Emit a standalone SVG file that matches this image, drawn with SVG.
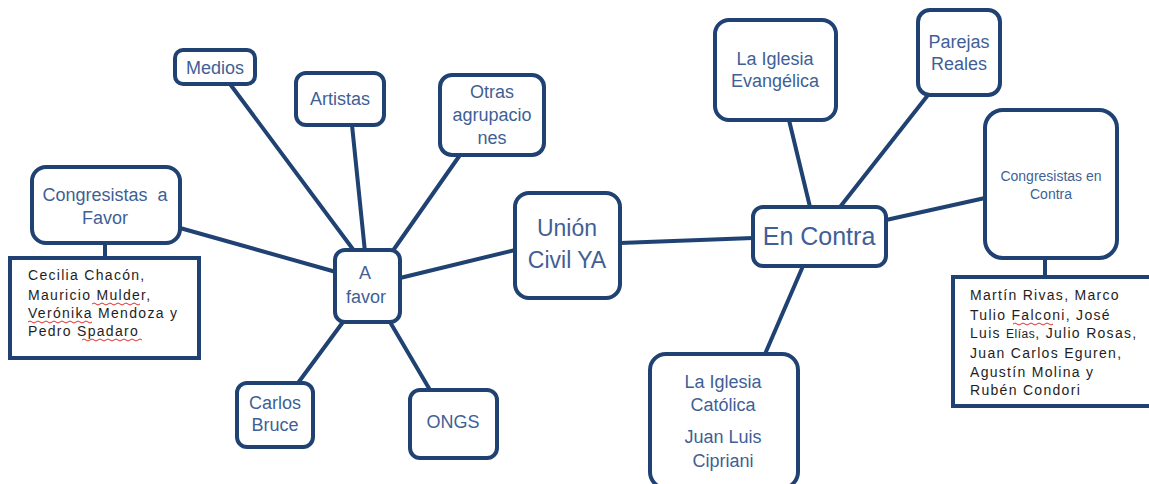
<svg xmlns="http://www.w3.org/2000/svg" width="1149" height="484" viewBox="0 0 1149 484">
<style>
.n{fill:#fff;stroke:#1f4272;stroke-width:4}
.c{stroke:#1f4272;stroke-width:4;fill:none;stroke-linecap:round}
.t{font-family:"Liberation Sans",Arial,sans-serif;fill:#3f5f96;text-anchor:middle;font-size:18px}
.l{font-family:"Liberation Sans",Arial,sans-serif;fill:#1e1e1e;font-size:14px;letter-spacing:1.3px}
.sp{stroke:#e03030;stroke-width:1;fill:none}
</style>
<rect width="1149" height="484" fill="#fff"/>
<g id="connectors">
<line class="c" x1="230" y1="84" x2="355" y2="252"/>
<line class="c" x1="352" y1="125" x2="365" y2="252"/>
<line class="c" x1="460" y1="155" x2="392" y2="252"/>
<line class="c" x1="180" y1="228" x2="336" y2="272"/>
<line class="c" x1="105" y1="243" x2="105" y2="258"/>
<line class="c" x1="400" y1="278" x2="515" y2="250"/>
<line class="c" x1="343" y1="322" x2="298" y2="383"/>
<line class="c" x1="390" y1="322" x2="430" y2="390"/>
<line class="c" x1="620" y1="243" x2="753" y2="238"/>
<line class="c" x1="810" y1="207" x2="789" y2="120"/>
<line class="c" x1="840" y1="207" x2="928" y2="95"/>
<line class="c" x1="886" y1="220" x2="985" y2="198"/>
<line class="c" x1="803" y1="266" x2="765" y2="354"/>
<line class="c" x1="1045" y1="258" x2="1045" y2="277"/>
</g>
<g id="medios"><rect class="n" x="175" y="50" width="80" height="34" rx="8"/><text class="t" x="215" y="74">Medios</text></g>
<g id="artistas"><rect class="n" x="296" y="73" width="88" height="52" rx="10"/><text class="t" x="340" y="105">Artistas</text></g>
<g id="otras"><rect class="n" x="440" y="75" width="104" height="80" rx="12"/><text class="t" x="492" y="98">Otras</text><text class="t" x="492" y="121">agrupacio</text><text class="t" x="492" y="144">nes</text></g>
<g id="congresistas-favor"><rect class="n" x="32" y="167" width="148" height="76" rx="14"/><text class="t" x="105" y="201" xml:space="preserve">Congresistas  a</text><text class="t" x="105" y="224">Favor</text></g>
<g id="lista-favor"><rect class="n" x="10" y="258" width="189" height="100" rx="0"/>
<text class="l" x="28" y="280">Cecilia Chacón,</text>
<text class="l" x="28" y="300">Mauricio Mulder,</text>
<text class="l" x="28" y="318">Verónika Mendoza y</text>
<text class="l" x="28" y="336">Pedro Spadaro</text>
<path class="sp" d="M92 304 q2 -2 4 0 t4 0 t4 0 t4 0 t4 0 t4 0 t4 0 t4 0 t4 0 t4 0 t4 0 t4 0"/>
<path class="sp" d="M28 322 q2 -2 4 0 t4 0 t4 0 t4 0 t4 0 t4 0 t4 0 t4 0 t4 0 t4 0 t4 0 t4 0 t4 0 t4 0 t4 0 t4 0"/>
<path class="sp" d="M82 340 q2 -2 4 0 t4 0 t4 0 t4 0 t4 0 t4 0 t4 0 t4 0 t4 0 t4 0 t4 0 t4 0 t4 0 t4 0 t4 0"/>
</g>
<g id="a-favor"><rect class="n" x="335" y="250" width="65" height="72" rx="10"/><text class="t" x="365" y="279">A</text><text class="t" x="366" y="303">favor</text></g>
<g id="carlos-bruce"><rect class="n" x="237" y="383" width="76" height="64" rx="10"/><text class="t" x="275" y="409">Carlos</text><text class="t" x="275" y="431">Bruce</text></g>
<g id="ongs"><rect class="n" x="410" y="390" width="87" height="68" rx="10"/><text class="t" x="453" y="428">ONGS</text></g>
<g id="union"><rect class="n" x="515" y="193" width="105" height="105" rx="14"/><text class="t" x="567" y="236" style="font-size:23px">Unión</text><text class="t" x="567" y="268" style="font-size:23px">Civil YA</text></g>
<g id="en-contra"><rect class="n" x="753" y="207" width="133" height="59" rx="10"/><text class="t" x="819" y="245" style="font-size:25px">En Contra</text></g>
<g id="evangelica"><rect class="n" x="715" y="20" width="121" height="100" rx="14"/><text class="t" x="775" y="65">La Iglesia</text><text class="t" x="775" y="87">Evangélica</text></g>
<g id="parejas"><rect class="n" x="918" y="10" width="82" height="85" rx="12"/><text class="t" x="959" y="48">Parejas</text><text class="t" x="959" y="70">Reales</text></g>
<g id="congresistas-contra"><rect class="n" x="985" y="110" width="132" height="148" rx="18"/><text class="t" x="1051" y="181" style="font-size:14px">Congresistas en</text><text class="t" x="1051" y="199" style="font-size:14px">Contra</text></g>
<g id="lista-contra"><rect class="n" x="953" y="277" width="200" height="129" rx="0"/>
<text class="l" x="970" y="300">Martín Rivas, Marco</text>
<text class="l" x="970" y="320">Tulio Falconi, José</text>
<text class="l" x="970" y="338">Luis <tspan style="font-size:12px;letter-spacing:0.5px">Elías</tspan>, Julio Rosas,</text>
<text class="l" x="970" y="358">Juan Carlos Eguren,</text>
<text class="l" x="970" y="377">Agustín Molina y</text>
<text class="l" x="970" y="395">Rubén Condori</text>
<path class="sp" d="M1013 324 q2 -2 4 0 t4 0 t4 0 t4 0 t4 0 t4 0 t4 0 t4 0 t4 0 t4 0"/>
</g>
<g id="catolica"><rect class="n" x="650" y="354" width="148" height="134" rx="16"/><text class="t" x="723" y="388">La Iglesia</text><text class="t" x="723" y="411">Católica</text><text class="t" x="723" y="443">Juan Luis</text><text class="t" x="723" y="467">Cipriani</text></g>
</svg>
